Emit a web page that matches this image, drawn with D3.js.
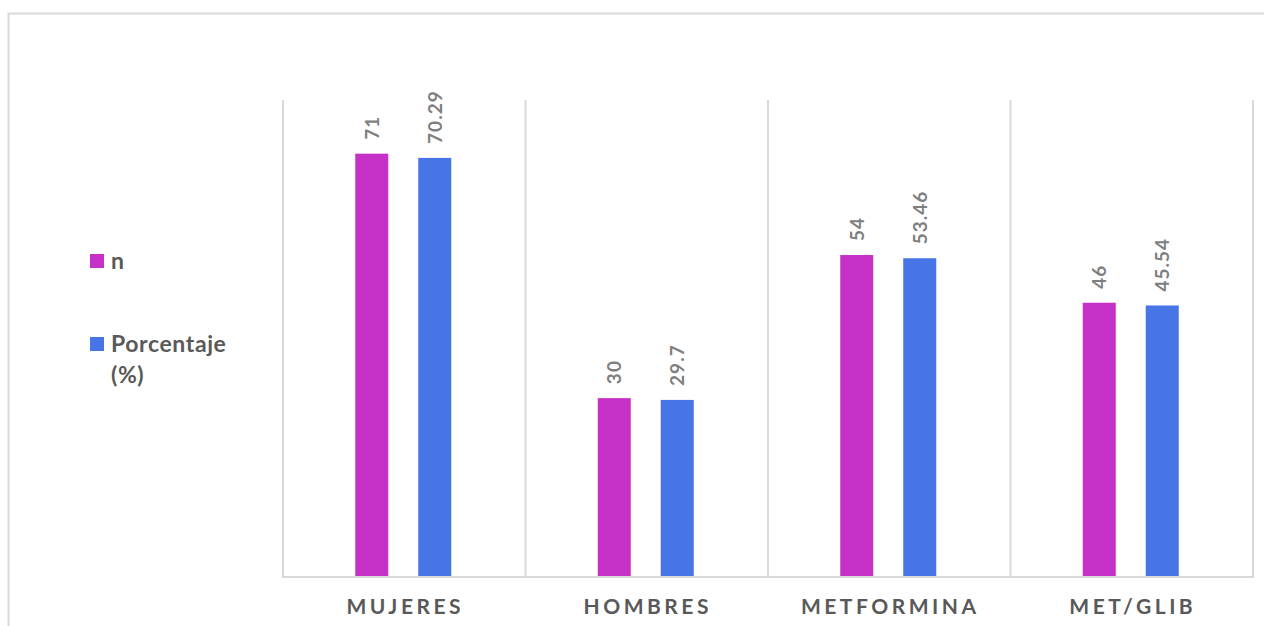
<!DOCTYPE html>
<html>
<head>
<meta charset="utf-8">
<script src="https://cdn.jsdelivr.net/npm/d3@7"></script>
<style>
  body { margin: 0; background: #fff; }
  svg { display: block; font-family: Lato, "Open Sans", sans-serif; }
</style>
</head>
<body>
<div id="vis"></div>
<script>
// chart data
var categories = ["MUJERES", "HOMBRES", "METFORMINA", "MET/GLIB"];
var seriesNames = ["n", "Porcentaje (%)"];
var nValues = [71, 30, 54, 46];
var pctValues = [70.29, 29.7, 53.46, 45.54];
var pctLabels = ["70.29", "29.7", "53.46", "45.54"];
var colours = ["#C530C7", "#4775E6"];

var svgWidth = 1264, svgHeight = 626;
var margin = { left: 283, right: 11, top: 100, bottom: 49 };

var svg = d3.select("#vis").append("svg")
  .attr("width", svgWidth)
  .attr("height", svgHeight);

// outer chart border (runs off the right/bottom edge)
svg.append("rect")
  .attr("x", 8.5).attr("y", 13.5)
  .attr("width", 1300).attr("height", 700)
  .attr("fill", "none")
  .attr("stroke", "#d9d9d9")
  .attr("stroke-width", 2);

var x0 = d3.scaleBand()
  .domain(categories)
  .range([margin.left, svgWidth - margin.right])
  .padding(0);

var x1 = d3.scaleBand()
  .domain(seriesNames)
  .range([-48, 48])
  .paddingInner(0.476);

var y = d3.scaleLinear()
  .domain([0, 80])
  .range([svgHeight - margin.bottom, margin.top]);

// vertical separators between categories
var bounds = categories.map(function (c) { return x0(c); });
bounds.push(x0.range()[1]);
svg.append("g").selectAll("line")
  .data(bounds)
  .enter().append("line")
  .attr("x1", function (d) { return d; })
  .attr("x2", function (d) { return d; })
  .attr("y1", y(80))
  .attr("y2", y(0))
  .attr("stroke", "#d9d9d9")
  .attr("stroke-width", 2);

// bars
var rows = categories.map(function (c, i) {
  return [
    { cat: c, s: seriesNames[0], v: nValues[i], label: String(nValues[i]) },
    { cat: c, s: seriesNames[1], v: pctValues[i], label: pctLabels[i] }
  ];
});

var groups = svg.append("g").selectAll("g")
  .data(rows)
  .enter().append("g")
  .attr("transform", function (d) { return "translate(" + (x0(d[0].cat) + x0.bandwidth() / 2 - 1) + ",0)"; });

groups.selectAll("rect")
  .data(function (d) { return d; })
  .enter().append("rect")
  .attr("x", function (d) { return x1(d.s); })
  .attr("width", x1.bandwidth())
  .attr("y", function (d) { return y(d.v); })
  .attr("height", function (d) { return y(0) - y(d.v); })
  .attr("fill", function (d, i) { return colours[i]; });

// rotated value labels
groups.selectAll("text")
  .data(function (d) { return d; })
  .enter().append("text")
  .attr("transform", function (d) {
    var cx = x1(d.s) + x1.bandwidth() / 2 + 7;
    return "translate(" + cx + "," + (y(d.v) - 14) + ") rotate(-90)";
  })
  .attr("text-anchor", "start")
  .attr("font-size", 19)
  .attr("font-weight", "bold")
  .attr("letter-spacing", 1)
  .attr("fill", "#7f7f7f")
  .text(function (d) { return d.label; });

// baseline
svg.append("line")
  .attr("x1", x0.range()[0] - 1).attr("x2", x0.range()[1] + 1)
  .attr("y1", y(0)).attr("y2", y(0))
  .attr("stroke", "#d9d9d9")
  .attr("stroke-width", 2);

// category labels
svg.append("g").selectAll("text")
  .data(categories)
  .enter().append("text")
  .attr("x", function (d) { return x0(d) + x0.bandwidth() / 2 + 1; })
  .attr("y", 614)
  .attr("text-anchor", "middle")
  .attr("font-size", 21)
  .attr("font-weight", "bold")
  .attr("letter-spacing", 3.5)
  .attr("fill", "#595959")
  .text(function (d) { return d; });

// legend
var legendItems = [
  { name: "n", lines: ["n"], y: 254 },
  { name: "Porcentaje (%)", lines: ["Porcentaje", "(%)"], y: 337 }
];
var legend = svg.append("g").selectAll("g")
  .data(legendItems)
  .enter().append("g");

legend.append("rect")
  .attr("x", 90).attr("y", function (d) { return d.y; })
  .attr("width", 14).attr("height", 14)
  .attr("fill", function (d, i) { return colours[i]; });

legend.append("text")
  .attr("x", 111)
  .attr("y", function (d) { return d.y + 15; })
  .attr("font-size", 23)
  .attr("font-weight", "bold")
  .attr("letter-spacing", 0.6)
  .attr("fill", "#595959")
  .selectAll("tspan")
  .data(function (d) { return d.lines; })
  .enter().append("tspan")
  .attr("x", 111)
  .attr("dy", function (d, i) { return i === 0 ? 0 : 31; })
  .text(function (d) { return d; });
</script>
</body>
</html>
